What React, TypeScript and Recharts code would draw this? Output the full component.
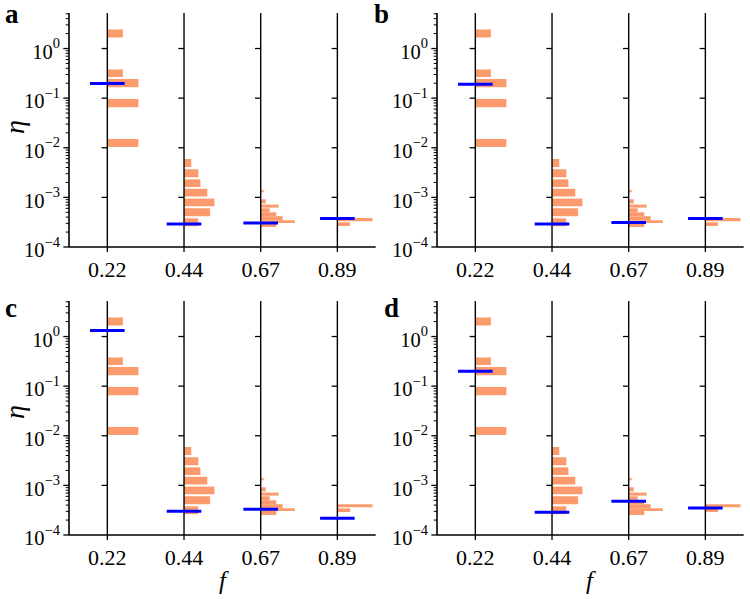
import React from 'react';
import { ComposedChart, XAxis, YAxis, ReferenceLine, ReferenceArea, Scatter } from 'recharts';

// ---------- data ----------
const categories = [2 / 9, 4 / 9, 6 / 9, 8 / 9];
const categoryLabels = ['0.22', '0.44', '0.67', '0.89'];

const yMajorTicks = [1e-4, 1e-3, 1e-2, 1e-1, 1];
const yExponents = ['\u22124', '\u22123', '\u22122', '\u22121', '0'];
const yMinorTicks = [
  2e-4, 3e-4, 4e-4, 5e-4, 6e-4, 7e-4, 8e-4, 9e-4,
  2e-3, 3e-3, 4e-3, 5e-3, 6e-3, 7e-3, 8e-3, 9e-3,
  2e-2, 3e-2, 4e-2, 5e-2, 6e-2, 7e-2, 8e-2, 9e-2,
  2e-1, 3e-1, 4e-1, 5e-1, 6e-1, 7e-1, 8e-1, 9e-1,
  2, 3, 4, 5,
];
const ySideTicks = [1e-3, 1e-2, 1e-1, 1];

// histogram bins: [low eta, high eta, relative frequency]
type Bin = [number, number, number];
const hist022: Bin[] = [
  [1.67, 2.42, 0.5],
  [0.267, 0.378, 0.5],
  [0.166, 0.244, 1.0],
  [0.0656, 0.0964, 1.0],
  [0.0104, 0.015, 1.0],
];
const hist044: Bin[] = [
  [0.0041, 0.00594, 0.235],
  [0.00254, 0.00369, 0.46],
  [0.00162, 0.00231, 0.526],
  [0.00104, 0.0015, 0.75],
  [0.000662, 0.000946, 0.98],
  [0.000416, 0.000603, 0.84],
  [0.000263, 0.000379, 0.46],
];
const hist067: Bin[] = [
  [0.00127, 0.00139, 0.1],
  [0.00075, 0.000916, 0.16],
  [0.000622, 0.000716, 0.58],
  [0.000501, 0.000603, 0.29],
  [0.000418, 0.000501, 0.5],
  [0.000347, 0.000418, 0.71],
  [0.000305, 0.000347, 1.1],
  [0.000253, 0.000305, 0.5],
];
const hist089ab: Bin[] = [
  [0.00033, 0.000383, 1.13],
  [0.000265, 0.000315, 0.4],
];
const hist089cd: Bin[] = [
  [0.000362, 0.000416, 1.13],
  [0.00029, 0.000345, 0.41],
];

const mediansA = [0.197, 2.91e-4, 3.05e-4, 3.74e-4];
const mediansB = [0.19, 2.9e-4, 3.1e-4, 3.74e-4];
const mediansC = [1.32, 3.02e-4, 3.31e-4, 2.18e-4];
const mediansD = [0.2, 2.88e-4, 4.8e-4, 3.52e-4];

const panelLetters = ['a', 'b', 'c', 'd'];
const panelMedians = [mediansA, mediansB, mediansC, mediansD];
const panelHists = [
  [hist022, hist044, hist067, hist089ab],
  [hist022, hist044, hist067, hist089ab],
  [hist022, hist044, hist067, hist089cd],
  [hist022, hist044, hist067, hist089cd],
];

// ---------- layout / style ----------
const FONT = "'Liberation Serif', serif";
const ORANGE = '#fb9b6d';
const BLUE = '#0000ff';
const BAR_UNIT = 0.09; // x data units per unit of relative frequency
const SIDE_TICK = 0.0165; // x data units
const CHART_W = 380;
const CHART_H = 290;
const panelPos = [
  { left: 0, top: 0 },
  { left: 368, top: 0 },
  { left: 0, top: 288.2 },
  { left: 368, top: 288.2 },
];

const textStyle = { fontFamily: FONT };

const YTick = (props: any) => {
  const { x, y, payload } = props;
  const v = payload.value;
  const idx = yMajorTicks.findIndex((t) => Math.abs(Math.log10(t) - Math.log10(v)) < 1e-6);
  if (idx < 0) {
    return <line x1={x - 3.3} x2={x} y1={y} y2={y} stroke="#000" strokeWidth={1} />;
  }
  return (
    <g>
      <line x1={x - 5.7} x2={x} y1={y} y2={y} stroke="#000" strokeWidth={1.3} />
      <text x={x - 9} y={y + 10.3} textAnchor="end" fontSize={20.5} style={textStyle} fill="#000">
        10
        <tspan dy={-10.6} fontSize={14.5}>
          {yExponents[idx]}
        </tspan>
      </text>
    </g>
  );
};

const XTick = (props: any) => {
  const { x, y, payload } = props;
  const idx = categories.findIndex((c) => Math.abs(c - payload.value) < 1e-6);
  return (
    <text x={x} y={y + 25.3} textAnchor="middle" fontSize={22} style={textStyle} fill="#000">
      {idx >= 0 ? categoryLabels[idx] : ''}
    </text>
  );
};

const MedianShape = (props: any) => {
  const { cx, cy } = props;
  return <line x1={cx - 17.3} x2={cx + 17.3} y1={cy} y2={cy} stroke={BLUE} strokeWidth={3} />;
};

const Panel = ({ index }: { index: number }) => {
  const medians = panelMedians[index];
  const hists = panelHists[index];
  const data = categories.map((f, i) => ({ f, eta: medians[i] }));
  const pos = panelPos[index];
  return (
    <div style={{ position: 'absolute', left: pos.left, top: pos.top, width: CHART_W, height: CHART_H }}>
      <ComposedChart width={CHART_W} height={CHART_H} margin={{ top: 13, right: 4.3, left: 0, bottom: 0 }} data={data}>
        <XAxis
          type="number"
          dataKey="f"
          domain={[1 / 9, 1]}
          ticks={categories}
          interval={0}
          height={43}
          tickSize={5}
          tickMargin={0}
          tick={<XTick />}
          axisLine={{ stroke: '#000', strokeWidth: 1.6 }}
          tickLine={{ stroke: '#000', strokeWidth: 1.3 }}
          allowDataOverflow
        />
        <YAxis
          type="number"
          scale="log"
          domain={[1e-4, 5.2]}
          ticks={[...yMajorTicks, ...yMinorTicks]}
          interval={0}
          width={69}
          tickSize={0}
          tickMargin={0}
          tickLine={false}
          tick={<YTick />}
          axisLine={{ stroke: '#000', strokeWidth: 1.6 }}
          allowDataOverflow
        />
        {hists.map((hist, ci) =>
          hist.map((b, bi) => (
            <ReferenceArea
              key={`h-${ci}-${bi}`}
              x1={categories[ci]}
              x2={categories[ci] + b[2] * BAR_UNIT}
              y1={b[0]}
              y2={b[1]}
              fill={ORANGE}
              fillOpacity={1}
              stroke="none"
              ifOverflow="visible"
            />
          ))
        )}
        {categories.map((c, ci) => (
          <ReferenceLine key={`v-${ci}`} x={c} stroke="#000" strokeWidth={1.4} />
        ))}
        {categories.map((c, ci) =>
          ySideTicks.map((t, ti) => (
            <ReferenceLine
              key={`t-${ci}-${ti}`}
              segment={[
                { x: c - SIDE_TICK, y: t },
                { x: c, y: t },
              ]}
              stroke="#000"
              strokeWidth={1.3}
              ifOverflow="visible"
            />
          ))
        )}
        <Scatter dataKey="eta" shape={<MedianShape />} isAnimationActive={false} />
      </ComposedChart>
    </div>
  );
};

export default function App() {
  return (
    <div
      style={{
        position: 'absolute',
        left: 0,
        top: 0,
        width: 750,
        height: 599,
        background: '#fff',
        fontFamily: FONT,
      }}
    >
      {[0, 1, 2, 3].map((i) => (
        <Panel key={i} index={i} />
      ))}
      <svg width={750} height={599} style={{ position: 'absolute', left: 0, top: 0, pointerEvents: 'none' }}>
        <text x={5} y={23.3} fontSize={27} fontWeight="bold" style={textStyle}>
          {panelLetters[0]}
        </text>
        <text x={374} y={23.3} fontSize={27} fontWeight="bold" style={textStyle}>
          {panelLetters[1]}
        </text>
        <text x={5} y={316.7} fontSize={27} fontWeight="bold" style={textStyle}>
          {panelLetters[2]}
        </text>
        <text x={384} y={316.7} fontSize={27} fontWeight="bold" style={textStyle}>
          {panelLetters[3]}
        </text>
        <text
          x={14.5}
          y={127}
          fontSize={28}
          fontStyle="italic"
          style={textStyle}
          textAnchor="middle"
          dominantBaseline="central"
          transform="rotate(-90, 14.5, 127)"
        >
          η
        </text>
        <text
          x={14.5}
          y={412}
          fontSize={28}
          fontStyle="italic"
          style={textStyle}
          textAnchor="middle"
          dominantBaseline="central"
          transform="rotate(-90, 14.5, 412)"
        >
          η
        </text>
        <text x={222.5} y={588.5} fontSize={25} fontStyle="italic" style={textStyle} textAnchor="middle">
          f
        </text>
        <text x={589.5} y={588.5} fontSize={25} fontStyle="italic" style={textStyle} textAnchor="middle">
          f
        </text>
      </svg>
    </div>
  );
}
